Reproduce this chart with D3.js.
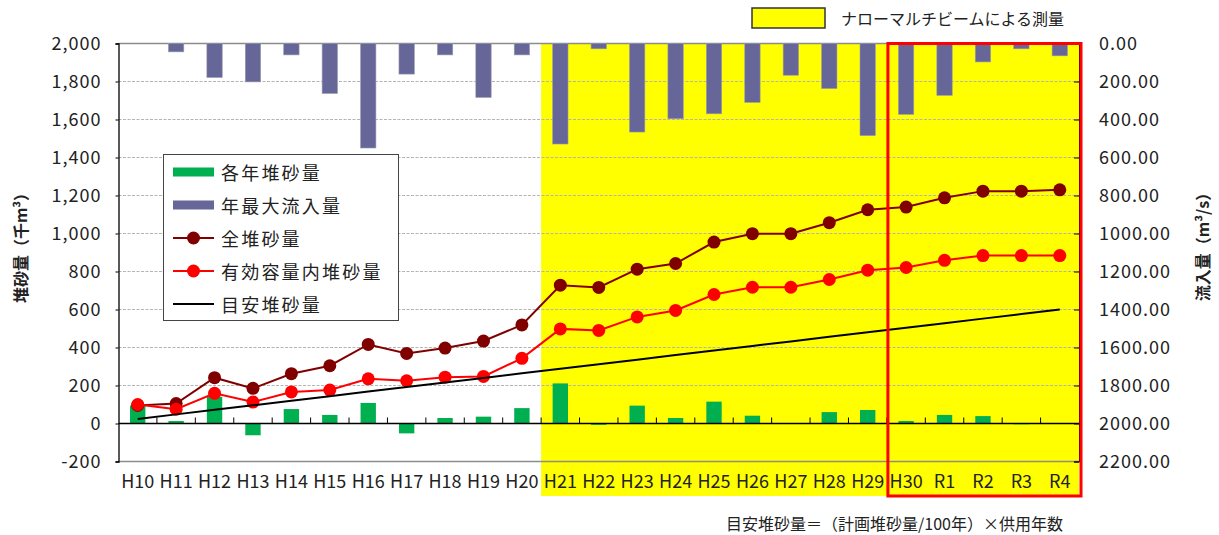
<!DOCTYPE html>
<html>
<head>
<meta charset="utf-8">
<script src="https://cdn.jsdelivr.net/npm/d3@7/dist/d3.min.js"></script>
<style>
  html, body { margin: 0; padding: 0; background: #fff; }
  svg { display: block; }
  text { font-family: "Noto Sans CJK JP", "Noto Sans", sans-serif; fill: #222; }
</style>
</head>
<body>
<svg id="chart" width="1219" height="535"></svg>
<script>
// Fiscal years (Heisei / Reiwa)
const years = ["H10","H11","H12","H13","H14","H15","H16","H17","H18","H19","H20",
  "H21","H22","H23","H24","H25","H26","H27","H28","H29","H30","R1","R2","R3","R4"];

// 各年堆砂量 (千m³)
const annualSediment = [95, 13, 141, -62, 76, 45, 108, -52, 29, 36, 81,
  211, -7, 94, 29, 115, 41, 0, 60, 71, 13, 45, 39, -4, 0];

// 年最大流入量 (m³/s)
const maxInflow = [null, 44, 179, 202, 60, 263, 550, 161, 60, 284, 60,
  529, 28, 466, 396, 370, 310, 167, 237, 485, 373, 273, 97, 28, 65];

// 全堆砂量 (千m³)
const totalSediment = [95, 105, 241, 185, 262, 304, 416, 369, 397, 434, 519,
  728, 716, 812, 842, 955, 999, 999, 1057, 1125, 1139, 1188, 1223, 1223, 1230];

// 有効容量内堆砂量 (千m³)
const effectiveSediment = [100, 75, 159, 113, 166, 176, 235, 225, 244, 248, 343,
  498, 490, 561, 595, 679, 717, 717, 758, 807, 821, 859, 884, 884, 884];

// 目安堆砂量 (千m³)
const guideSediment = [24, 48, 72, 96, 120, 144, 168, 192, 216, 240, 264,
  288, 312, 336, 360, 384, 408, 432, 456, 480, 504, 528, 552, 576, 600];

const leftTicks = [-200, 0, 200, 400, 600, 800, 1000, 1200, 1400, 1600, 1800, 2000];
const rightTicks = [0, 200, 400, 600, 800, 1000, 1200, 1400, 1600, 1800, 2000, 2200];

const surveyStart = "H21";   // ナローマルチビーム測量の開始年
const highlightStart = "H30";

const C = {
  green: "#00B050", purple: "#666699", darkred: "#800000", red: "#FF0000",
  black: "#000000", yellow: "#FFFF00", grid: "#b4b4b4", frame: "#8c8c8c"
};

const svg = d3.select("#chart");
const plot = { left: 118.5, right: 1079, top: 43.5, bottom: 461.5 };

const x = d3.scaleBand().domain(years).range([plot.left, plot.right]).paddingInner(0).paddingOuter(0);
const cx = d => x(d) + x.bandwidth() / 2;
const barW = x.bandwidth() * 0.4;

const yL = d3.scaleLinear().domain([-200, 2000]).range([plot.bottom, plot.top]);
const yR = d3.scaleLinear().domain([0, 2200]).range([plot.top, plot.bottom]);

// survey period background
svg.append("rect")
  .attr("x", x(surveyStart)).attr("y", plot.top)
  .attr("width", plot.right - x(surveyStart)).attr("height", 496 - plot.top)
  .attr("fill", C.yellow);

// horizontal gridlines
svg.append("g").selectAll("line")
  .data(leftTicks.filter(v => v !== 0 && v !== -200 && v !== 2000))
  .join("line")
  .attr("x1", plot.left).attr("x2", plot.right)
  .attr("y1", d => yL(d)).attr("y2", d => yL(d))
  .attr("stroke", C.grid).attr("stroke-width", 1).attr("stroke-dasharray", "3,1.5");

// top and bottom frame
[2000, -200].forEach(v => {
  svg.append("line")
    .attr("x1", plot.left).attr("x2", plot.right)
    .attr("y1", yL(v)).attr("y2", yL(v))
    .attr("stroke", C.frame).attr("stroke-width", 1.5);
});

// 年最大流入量 bars hanging from the top (right axis)
svg.append("g").selectAll("rect")
  .data(years.map((y, i) => ({ y, v: maxInflow[i] })).filter(d => d.v != null && d.v > 0))
  .join("rect")
  .attr("x", d => cx(d.y) - barW / 2).attr("width", barW)
  .attr("y", yR(0)).attr("height", d => yR(d.v) - yR(0))
  .attr("fill", C.purple).attr("stroke", "#9a9ab0").attr("stroke-width", 0.6);

// 各年堆砂量 bars (left axis)
svg.append("g").selectAll("rect")
  .data(years.map((y, i) => ({ y, v: annualSediment[i] })).filter(d => d.v !== 0))
  .join("rect")
  .attr("x", d => cx(d.y) - barW / 2).attr("width", barW)
  .attr("y", d => Math.min(yL(d.v), yL(0)))
  .attr("height", d => Math.abs(yL(d.v) - yL(0)))
  .attr("fill", C.green);

// category axis on the zero line
svg.append("line")
  .attr("x1", plot.left).attr("x2", plot.right)
  .attr("y1", yL(0)).attr("y2", yL(0))
  .attr("stroke", "#000").attr("stroke-width", 1.3);
svg.append("g").selectAll("line")
  .data(years.slice(1))
  .join("line")
  .attr("x1", d => x(d)).attr("x2", d => x(d))
  .attr("y1", yL(0)).attr("y2", yL(0) - 6)
  .attr("stroke", "#000").attr("stroke-width", 1);

// x labels
svg.append("g").selectAll("text")
  .data(years)
  .join("text")
  .attr("x", d => cx(d)).attr("y", 480)
  .attr("text-anchor", "middle").attr("dominant-baseline", "central")
  .attr("font-size", 18)
  .text(d => d);

// left axis (plain hyphen for negatives)
const fmtL = d3.format(",");
const axL = svg.append("g").attr("transform", `translate(${plot.left},0)`)
  .call(d3.axisLeft(yL).tickValues(leftTicks).tickSize(3).tickPadding(14)
    .tickFormat(d => fmtL(d).replace("\u2212", "-")));
axL.select(".domain").attr("stroke", "#000").attr("stroke-width", 1.3);
axL.selectAll(".tick line").attr("stroke", "#000");
axL.selectAll(".tick text").attr("font-size", 18).attr("fill", "#222")
  .attr("letter-spacing", 1)
  .attr("font-family", '"Noto Sans CJK JP", sans-serif');

// right axis
const axR = svg.append("g").attr("transform", `translate(${plot.right},0)`)
  .call(d3.axisRight(yR).tickValues(rightTicks).tickSize(-5).tickPadding(20)
    .tickFormat(d3.format(".2f")));
axR.select(".domain").attr("stroke", "#000");
axR.selectAll(".tick line").attr("stroke", "#000");
axR.selectAll(".tick text").attr("font-size", 18).attr("fill", "#222")
  .attr("letter-spacing", 1)
  .attr("font-family", '"Noto Sans CJK JP", sans-serif');

// lines
const lineGen = vals => d3.line().x((d, i) => cx(years[i])).y(d => yL(d))(vals);

function drawSeries(vals, color, markers) {
  svg.append("path").attr("d", lineGen(vals))
    .attr("fill", "none").attr("stroke", color).attr("stroke-width", 2);
  if (markers) {
    svg.append("g").selectAll("circle")
      .data(vals).join("circle")
      .attr("cx", (d, i) => cx(years[i])).attr("cy", d => yL(d))
      .attr("r", 6.5).attr("fill", color);
  }
}
drawSeries(totalSediment, C.darkred, true);
drawSeries(effectiveSediment, C.red, true);
drawSeries(guideSediment, C.black, false);

// highlight frame for recent years
svg.append("rect")
  .attr("x", x(highlightStart) + 1).attr("y", plot.top)
  .attr("width", plot.right + 2 - x(highlightStart) - 1).attr("height", 496 - plot.top)
  .attr("fill", "none").attr("stroke", C.red).attr("stroke-width", 3);

// series legend
const lg = svg.append("g");
lg.append("rect").attr("x", 163.5).attr("y", 154.5).attr("width", 235).attr("height", 166)
  .attr("fill", "#fff").attr("stroke", "#444").attr("stroke-width", 1);
const legendItems = [
  { label: "各年堆砂量", type: "bar", color: C.green },
  { label: "年最大流入量", type: "bar", color: C.purple },
  { label: "全堆砂量", type: "marker", color: C.darkred },
  { label: "有効容量内堆砂量", type: "marker", color: C.red },
  { label: "目安堆砂量", type: "line", color: C.black }
];
legendItems.forEach((d, i) => {
  const yy = 172 + i * 33;
  if (d.type === "bar") {
    lg.append("rect").attr("x", 173).attr("y", yy - 4.5).attr("width", 41).attr("height", 9)
      .attr("fill", d.color);
  } else {
    lg.append("line").attr("x1", 173).attr("x2", 214).attr("y1", yy).attr("y2", yy)
      .attr("stroke", d.color).attr("stroke-width", 2);
    if (d.type === "marker") {
      lg.append("circle").attr("cx", 193.5).attr("cy", yy).attr("r", 6.5).attr("fill", d.color);
    }
  }
  lg.append("text").attr("x", 221).attr("y", yy).attr("dominant-baseline", "central")
    .attr("font-size", 18).attr("letter-spacing", 2.2).text(d.label);
});

// survey legend
svg.append("rect").attr("x", 752).attr("y", 8).attr("width", 73).attr("height", 20)
  .attr("fill", C.yellow).attr("stroke", "#333").attr("stroke-width", 1.5);
svg.append("text").attr("x", 841).attr("y", 18).attr("dominant-baseline", "central")
  .attr("font-size", 16).text("ナローマルチビームによる測量");

// axis titles
svg.append("text").attr("transform", "translate(20,244) rotate(-90)")
  .attr("text-anchor", "middle").attr("dominant-baseline", "central")
  .attr("font-size", 16).attr("font-weight", 700).text("堆砂量（千m³）");
svg.append("text").attr("transform", "translate(1202,243) rotate(-90)")
  .attr("text-anchor", "middle").attr("dominant-baseline", "central")
  .attr("font-size", 16).attr("font-weight", 700).text("流入量（m³/s）");

// footnote
svg.append("text").attr("x", 1063).attr("y", 523).attr("text-anchor", "end")
  .attr("dominant-baseline", "central").attr("font-size", 16)
  .text("目安堆砂量＝（計画堆砂量/100年）×供用年数");
</script>
</body>
</html>
